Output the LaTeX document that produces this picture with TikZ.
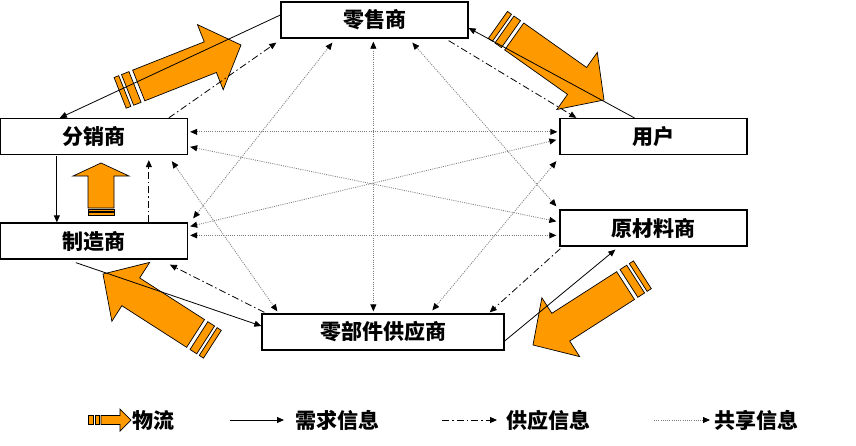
\documentclass[tikz,border=0pt]{standalone}
\usepackage{fontspec}
\newfontfamily\cjk{Noto Sans CJK SC}
\usetikzlibrary{arrows.meta,calc}
\definecolor{flowor}{RGB}{255,153,0}
\definecolor{shgray}{RGB}{125,125,125}
\tikzset{
  flow/.style={draw=black, line width=0.7pt, fill=flowor, line join=miter},
  pics/striped/.style n args={8}{code={
    \path[flow] (0,0) -- (-#1,#2) -- (-#1,#3) -- (-#4,#3) -- (-#4,-#3) -- (-#1,-#3) -- (-#1,-#2) -- cycle;
    \path[flow] (-#5,-#3) rectangle (-#6,#3);
    \path[flow] (-#7,-#3) rectangle (-#8,#3);
  }},
  box/.style={draw, line width=1.3pt, minimum width=187pt, minimum height=36pt, inner sep=0pt,
    font=\cjk\bfseries\fontsize{21}{24}\selectfont},
  legend/.style={inner sep=0pt, anchor=west, font=\cjk\bfseries\fontsize{21}{24}\selectfont},
  tip/.style={-{Triangle[length=7pt,width=6pt]}},
  demand/.style={draw=black, line width=0.8pt, tip},
  supply/.style={draw=black, line width=0.8pt, dash pattern=on 7pt off 3pt on 1.5pt off 3pt, tip},
  shared/.style={draw=shgray, line width=0.8pt, dash pattern=on 1pt off 1.2pt,
    {Triangle[length=7pt,width=6pt,color=black]}-{Triangle[length=7pt,width=6pt,color=black]}},
  sharedone/.style={draw=shgray, line width=0.8pt, dash pattern=on 1pt off 1.2pt,
    -{Triangle[length=7pt,width=6pt,color=black]}},
}
\begin{document}
\begin{tikzpicture}[x=1pt,y=-1pt]
\useasboundingbox[fill=white] (0,0) rectangle (856,445);

% material-flow block arrows
\pic[rotate=21.6] at (241,45) {striped={33}{35}{16.5}{110}{114}{122}{125}{130}};
\pic[rotate=-35.3] at (604,100) {striped={33}{35}{16.5}{110}{114}{122}{125}{130}};
\pic[rotate=147.3] at (103,274) {striped={33}{35}{16.5}{110}{114}{122}{125}{130}};
\pic[rotate=212.7] at (533,345) {striped={33}{35}{16.5}{110}{114}{122}{125}{130}};
\pic[rotate=90] at (101,163) {striped={13}{28}{13}{45}{46}{48.5}{49.5}{52}};

% nodes
\node[box] (retail) at (374.5,20) {零售商};
\node[box] (dist) at (94,136.5) {分销商};
\node[box] (user) at (653.5,136.5) {用户};
\node[box] (manu) at (94,241) {制造商};
\node[box] (raw) at (653.5,228) {原材料商};
\node[box, minimum width=242pt] (parts) at (383,332) {零部件供应商};

% shared information (dotted, both ends)
\draw[shared] ($(dist.north east)+(2,14)$) -- ($(user.north west)+(-2,14)$);
\draw[shared] ($(dist.north east)+(2,29)$) -- ($(raw.north west)+(-3,12)$);
\draw[shared] ($(manu.north east)+(2,4)$) -- ($(user.north west)+(-3,22)$);
\draw[shared] ($(manu.north east)+(2,13)$) -- ($(raw.north west)+(-3,26)$);
\draw[shared] ($(retail.south west)+(93,3)$) -- ($(parts.north west)+(112,-2)$);
\draw[shared] ($(retail.south west)+(52,4)$) -- ($(manu.north east)+(5,-4)$);
\draw[shared] ($(retail.south west)+(132,4)$) -- ($(raw.north west)+(-3,-3)$);
\draw[shared] ($(dist.south west)+(172,6)$) -- ($(parts.north west)+(16,-2)$);
\draw[shared] ($(user.south west)+(-3,6)$) -- ($(parts.north west)+(171,-3)$);

% demand information (solid)
\draw[demand] ($(retail.west)+(0,-5)$) -- ($(dist.north west)+(60,0)$);
\draw[demand] ($(user.north west)+(75,0)$) -- ($(retail.east)+(0,8)$);
\draw[demand] ($(dist.south west)+(57,1)$) -- ($(manu.north west)+(57,0)$);
\draw[demand] ($(manu.south west)+(76,3)$) -- ($(parts.west)+(0,-6)$);
\draw[demand] ($(parts.east)+(0,9)$) -- ($(raw.south west)+(56,3)$);

% supply information (dash-dot)
\draw[supply] ($(dist.north west)+(169,0)$) -- ($(retail.south west)+(-4,4)$);
\draw[supply] ($(retail.south east)+(-20,2)$) -- ($(user.north west)+(17,0)$);
\draw[supply] ($(manu.north west)+(149,0)$) -- ($(dist.south west)+(149,5)$);
\draw[supply] ($(parts.north west)+(3,-1)$) -- ($(manu.south west)+(170,5)$);
\draw[supply] ($(raw.south west)+(1,2)$) -- ($(parts.north east)+(-15,-1)$);

% legend
\pic at (131,420) {striped={11}{11}{4.5}{30}{32}{36}{38}{43}};
\node[legend] (lg1) at (132,420) {物流};
\node[legend] (lg2) at (295,420) {需求信息};
\node[legend] (lg3) at (506,420) {供应信息};
\node[legend] (lg4) at (714,420) {共享信息};
\coordinate (lg2s) at (230,420);
\coordinate (lg3s) at (442,420);
\coordinate (lg4s) at (654,420);
\draw[demand] (lg2s) -- ($(lg2.west)+(-11,0)$);
\draw[supply] (lg3s) -- ($(lg3.west)+(-9,0)$);
\draw[sharedone] (lg4s) -- ($(lg4.west)+(-4,0)$);
\end{tikzpicture}
\end{document}
